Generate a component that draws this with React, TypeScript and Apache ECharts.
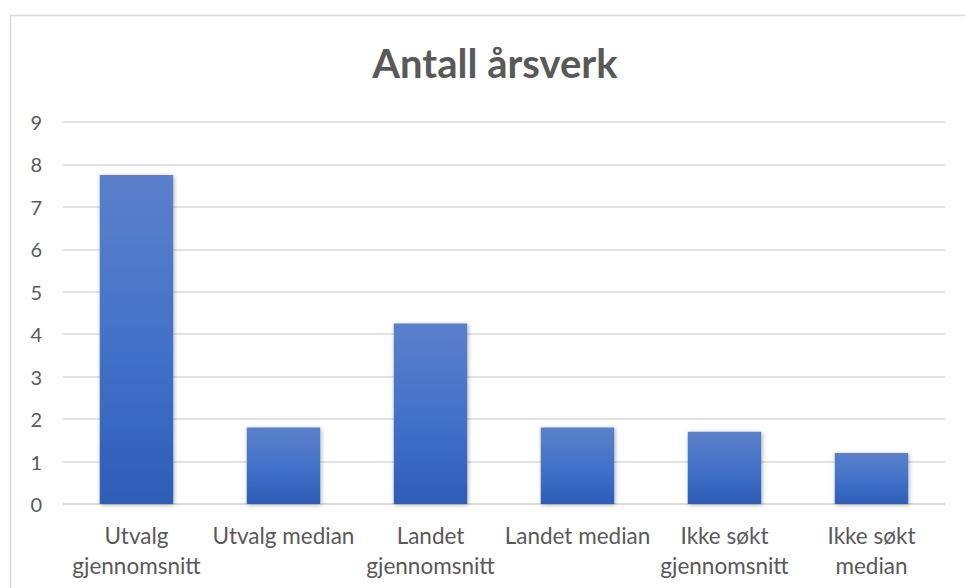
import React, { useEffect, useRef } from "react";
import * as echarts from "echarts";

const categories = [
  "Utvalg\ngjennomsnitt",
  "Utvalg median",
  "Landet\ngjennomsnitt",
  "Landet median",
  "Ikke søkt\ngjennomsnitt",
  "Ikke søkt\nmedian",
];
const values = [7.75, 1.8, 4.25, 1.8, 1.7, 1.2];
const title = "Antall årsverk";

export default function App() {
  const ref = useRef<HTMLDivElement>(null);
  useEffect(() => {
    const chart = echarts.init(ref.current!, null, { renderer: "svg" });
    chart.setOption({
      animation: false,
      backgroundColor: "#ffffff",
      title: {
        text: title,
        left: 490,
        textAlign: "center",
        top: 38,
        textStyle: { fontFamily: "Lato", fontWeight: "bold", fontSize: 40, color: "#595959" },
      },
      graphic: [
        {
          type: "rect",
          shape: { x: 10.5, y: 15.5, width: 1000, height: 1000 },
          style: { fill: "none", stroke: "#d9d9d9", lineWidth: 1.5 },
          silent: true,
        },
      ],
      grid: { left: 63, right: 20, top: 122, bottom: 84 },
      xAxis: {
        type: "category",
        data: categories,
        axisLine: { lineStyle: { color: "#d9d9d9", width: 1.5 } },
        axisTick: { show: false },
        axisLabel: {
          color: "#595959",
          fontSize: 22.5,
          fontFamily: "Lato",
          margin: 16,
          lineHeight: 30,
          interval: 0,
        },
      },
      yAxis: {
        type: "value",
        min: 0,
        max: 9,
        interval: 1,
        axisLine: { show: false },
        axisTick: { show: false },
        splitLine: { lineStyle: { color: "#d9d9d9", width: 1.5 } },
        axisLabel: { color: "#595959", fontSize: 20, fontFamily: "Lato", margin: 21 },
      },
      series: [
        {
          type: "bar",
          data: values,
          barWidth: "50%",
          itemStyle: {
            color: new echarts.graphic.LinearGradient(0, 0, 0, 1, [
              { offset: 0, color: "#5b80c9" },
              { offset: 0.5, color: "#4472c9" },
              { offset: 1, color: "#2e5db6" },
            ]),
            shadowBlur: 4,
            shadowColor: "rgba(0,0,0,0.3)",
            shadowOffsetX: 1,
            shadowOffsetY: 1,
          },
        },
      ],
    });
    return () => chart.dispose();
  }, []);
  return (
    <div
      ref={ref}
      style={{ position: "fixed", left: 0, top: 0, width: 965, height: 588 }}
    />
  );
}
